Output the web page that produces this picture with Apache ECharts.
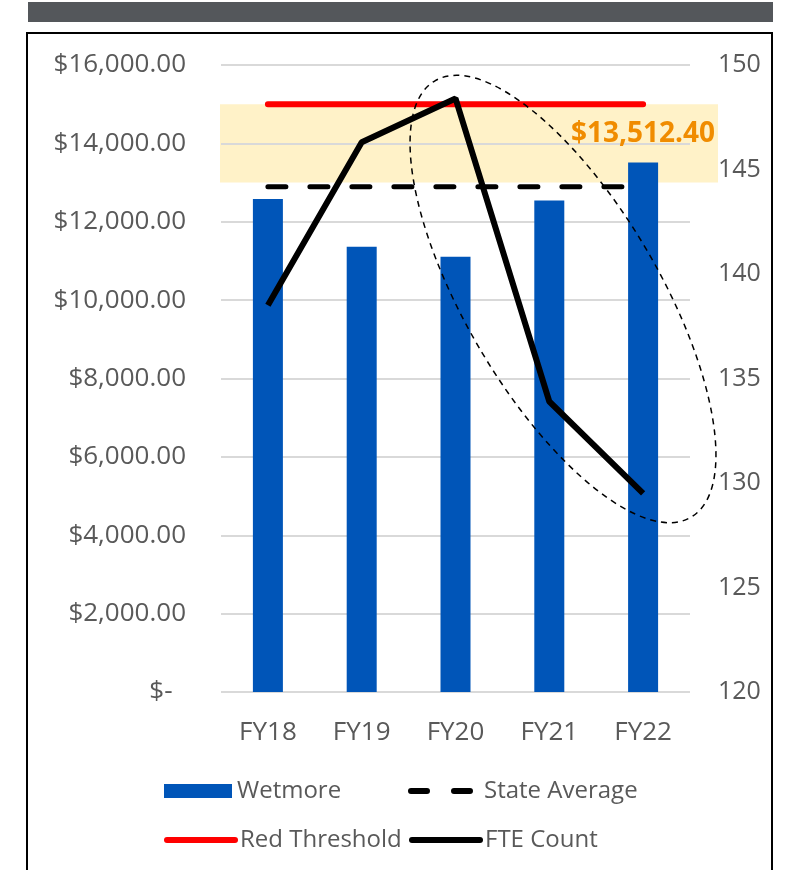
<!DOCTYPE html>
<html>
<head>
<meta charset="utf-8">
<script src="https://cdn.jsdelivr.net/npm/echarts@6/dist/echarts.min.js"></script>
<style>
  html, body { margin: 0; padding: 0; background: #fff; }
  #chart { width: 788px; height: 870px; }
</style>
</head>
<body>
<div id="chart"></div>
<script>
// values
const categories = ['FY18', 'FY19', 'FY20', 'FY21', 'FY22']
const wetmore = [12580, 11360, 11110, 12540, 13512.40]
const stateAverage = [12890, 12890, 12890, 12890, 12890]
const redThreshold = [15000, 15000, 15000, 15000, 15000]
const fteCount = [138.5, 146.3, 148.4, 133.9, 129.5]
const leftAxisRange = [0, 16000, 2000]
const rightAxisRange = [120, 150, 5]
const bandRange = [13000, 15000]

const font = '"Open Sans", "Noto Sans", sans-serif'
const gray = '#595959'

function money(v) {
    if (v === 0) return '$-  '
    let parts = v.toFixed(2).split('.')
    parts[0] = parts[0].replace(/\B(?=(\d{3})+(?!\d))/g, ',')
    return '$' + parts.join('.')
}

let chart = echarts.init(document.getElementById('chart'))

// one legend per entry, so each sits where it does in the picture
let legendText = { color: gray, fontSize: 24, fontFamily: font }
let mkLegend = (name, left, top, extra) => Object.assign({
    data: [name], left: left, top: top, padding: 0,
    itemWidth: 68, itemHeight: 14, itemGap: 0,
    textStyle: legendText, selectedMode: false
}, extra)

let option = {
    animation: false,
    backgroundColor: '#fff',
    textStyle: { fontFamily: font },
    grid: { left: 221, right: 98, top: 65, bottom: 178 },
    legend: [
        mkLegend('Wetmore', 164, 779, { icon: 'rect' }),
        mkLegend('State Average', 408, 779, {
            itemStyle: { opacity: 0 },
            lineStyle: { width: 6, type: [16, 27], cap: 'round' }
        }),
        mkLegend('Red Threshold', 164, 828, {
            itemStyle: { opacity: 0 },
            lineStyle: { width: 6, cap: 'round' }
        }),
        mkLegend('FTE Count', 409, 828, {
            itemStyle: { opacity: 0 },
            lineStyle: { width: 6, cap: 'round' }
        })
    ],
    xAxis: {
        type: 'category',
        data: categories,
        axisLine: { show: false },
        axisTick: { show: false },
        axisLabel: { color: gray, fontSize: 26, fontFamily: font, margin: 28 }
    },
    yAxis: [{
        type: 'value',
        min: leftAxisRange[0], max: leftAxisRange[1], interval: leftAxisRange[2],
        axisLine: { show: false },
        axisTick: { show: false },
        axisLabel: { color: gray, fontSize: 26, fontFamily: font, margin: 35, formatter: money },
        splitLine: { lineStyle: { color: '#d9d9d9', width: 2 } }
    }, {
        type: 'value',
        min: rightAxisRange[0], max: rightAxisRange[1], interval: rightAxisRange[2],
        axisLine: { show: false },
        axisTick: { show: false },
        axisLabel: { color: gray, fontSize: 25, fontFamily: font, margin: 28 },
        splitLine: { show: false }
    }],
    series: [{
        name: 'Wetmore',
        type: 'bar',
        barWidth: 30,
        itemStyle: { color: '#0055b8' },
        data: wetmore.map((v, i) => i === wetmore.length - 1 ? {
            value: v,
            label: {
                show: true, position: 'top', distance: 14,
                color: '#f08c00', fontSize: 28, fontWeight: 'bold', fontFamily: font,
                formatter: p => money(p.value)
            }
        } : v),
        z: 2
    }, {
        name: 'State Average',
        type: 'line',
        data: stateAverage,
        symbol: 'none',
        lineStyle: { color: '#000', width: 5, type: [18, 24], cap: 'round' },
        itemStyle: { color: '#000' },
        z: 3
    }, {
        name: 'Red Threshold',
        type: 'line',
        data: redThreshold,
        symbol: 'none',
        lineStyle: { color: '#ff0000', width: 6, cap: 'round' },
        itemStyle: { color: '#ff0000' },
        z: 3
    }, {
        name: 'FTE Count',
        type: 'line',
        yAxisIndex: 1,
        data: fteCount,
        symbol: 'none',
        lineStyle: { color: '#000', width: 6 },
        itemStyle: { color: '#000' },
        z: 4
    }]
}
chart.setOption(option)

// yellow band + frame + circled annotation
let bandTop = chart.convertToPixel({ yAxisIndex: 0 }, bandRange[1])
let bandBottom = chart.convertToPixel({ yAxisIndex: 0 }, bandRange[0])
let ellipseAngle = 30.4 * Math.PI / 180
chart.setOption({
    graphic: [{
        type: 'rect', z: -10,
        shape: { x: 220, y: bandTop, width: 498, height: bandBottom - bandTop },
        style: { fill: '#fff2c8' }
    }, {
        type: 'rect', z: 10,
        shape: { x: 28, y: 2, width: 745, height: 20 },
        style: { fill: '#54575b' }
    }, {
        type: 'rect', z: 10,
        shape: { x: 27, y: 33, width: 745, height: 900 },
        style: { fill: null, stroke: '#000', lineWidth: 2 }
    }, {
        type: 'ellipse', z: 10,
        x: 563, y: 299, rotation: ellipseAngle,
        shape: { cx: 0, cy: 0, rx: 97, ry: 253 },
        style: { fill: null, stroke: '#000', lineWidth: 1.5, lineDash: [6, 5] }
    }]
})
</script>
</body>
</html>
